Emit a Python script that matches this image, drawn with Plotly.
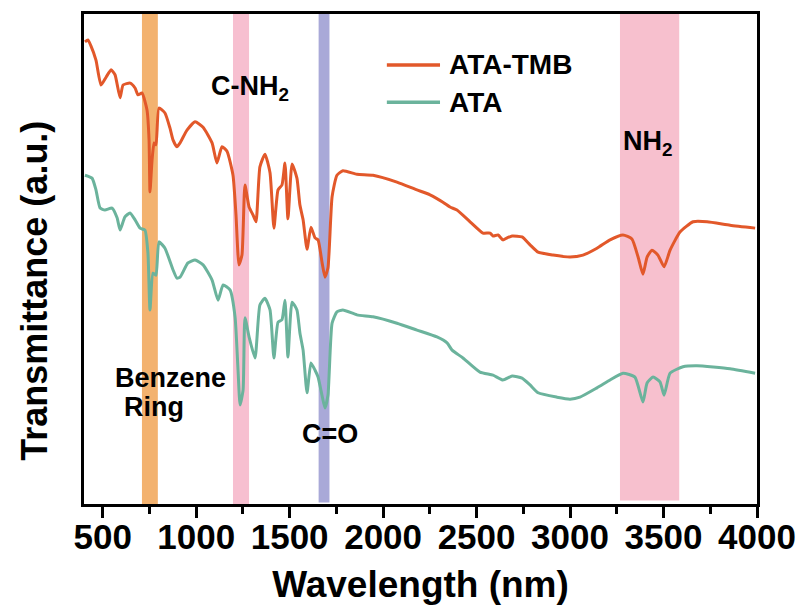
import plotly.graph_objects as go

# ---- data (wavenumber, transmittance a.u.) ----
wn_tmb = [405, 421, 437, 464, 491, 518, 545, 566, 593, 609, 647, 673, 689, 710, 737, 748, 753, 764,
          775, 785, 801, 833, 860, 876, 897, 914, 951, 994, 1037, 1085, 1111, 1138, 1165, 1197, 1213,
          1229, 1245, 1261, 1283, 1304, 1320, 1341, 1368, 1395, 1416, 1438, 1459, 1475, 1491, 1513,
          1539, 1555, 1572, 1593, 1614, 1636, 1652, 1673, 1689, 1705, 1727, 1753, 1785, 1860, 1946,
          2074, 2181, 2251, 2320, 2358, 2395, 2465, 2534, 2572, 2588, 2615, 2641, 2663, 2690, 2743,
          2786, 2829, 2909, 3000, 3069, 3144, 3214, 3283, 3331, 3364, 3390, 3412, 3438, 3470, 3503,
          3535, 3588, 3658, 3733, 3856, 3990]
t_tmb = [94.3, 94.7, 93.5, 90.6, 85.5, 87.1, 88.6, 87.6, 82.9, 85.5, 85.9, 84.9, 83.5, 83.9, 80.4,
         74.3, 63.7, 70.2, 73.7, 73.3, 80.8, 79.8, 76.7, 74.3, 72.9, 73.7, 76.3, 78.0, 76.9, 73.7,
         69.6, 72.9, 72.0, 67.1, 59.0, 48.8, 50.8, 65.1, 60.6, 59.0, 57.6, 68.8, 71.4, 67.6, 56.3,
         64.1, 65.1, 69.6, 58.2, 69.4, 66.5, 61.0, 58.0, 52.0, 56.5, 54.3, 53.9, 49.4, 46.3, 48.2,
         62.7, 67.1, 68.0, 67.3, 67.1, 65.7, 64.1, 63.1, 61.6, 60.6, 60.0, 57.6, 55.3, 55.3, 54.7,
         54.9, 53.9, 54.3, 54.7, 54.5, 52.9, 51.4, 50.8, 50.4, 50.8, 52.2, 53.9, 54.9, 54.1, 50.4,
         46.9, 50.4, 51.8, 50.8, 48.4, 51.8, 55.5, 57.6, 57.6, 56.9, 56.3]

wn_ata = [405, 443, 464, 486, 512, 550, 577, 593, 619, 646, 673, 700, 726, 742, 753, 769, 785, 801,
          833, 876, 897, 914, 956, 994, 1037, 1085, 1117, 1144, 1181, 1208, 1224, 1235, 1251, 1261,
          1283, 1315, 1341, 1368, 1395, 1416, 1438, 1459, 1475, 1491, 1513, 1539, 1555, 1572, 1593,
          1614, 1636, 1652, 1673, 1689, 1705, 1727, 1753, 1785, 1860, 1946, 2074, 2181, 2288, 2342,
          2369, 2427, 2518, 2588, 2641, 2690, 2743, 2786, 2829, 2930, 3000, 3053, 3144, 3214, 3283,
          3347, 3390, 3412, 3444, 3481, 3503, 3535, 3604, 3679, 3856, 3990]
t_ata = [67.1, 66.5, 64.1, 60.4, 60.0, 60.4, 58.4, 55.9, 58.6, 59.4, 58.0, 56.3, 55.9, 51.2, 39.6,
         47.1, 46.7, 53.5, 52.2, 47.8, 46.1, 46.3, 49.2, 49.8, 48.8, 45.7, 41.6, 44.7, 43.7, 38.2,
         27.3, 20.2, 23.3, 38.0, 34.1, 29.8, 40.6, 42.0, 39.6, 29.8, 37.1, 37.6, 41.6, 30.0, 41.2,
         39.6, 34.9, 31.4, 22.7, 28.8, 27.3, 25.9, 22.2, 19.6, 22.2, 36.9, 39.2, 39.6, 38.6, 38.2,
         36.9, 35.5, 34.1, 32.9, 31.4, 29.8, 26.9, 26.3, 25.3, 26.1, 25.7, 24.3, 22.7, 21.8, 21.4,
         21.8, 23.7, 25.3, 26.7, 25.9, 20.8, 24.7, 25.9, 24.9, 22.2, 26.7, 28.0, 28.2, 27.6, 26.7]

series_names = ["ATA-TMB", "ATA"]
series_colors = ["#E2582A", "#6BB39C"]

# highlighted bands
band_start = [710, 1197, 1655, 3267]
band_end = [795, 1283, 1713, 3584]
band_color = ["#F3B26F", "#F7BFD0", "#A9A9D8", "#F7C0CE"]
band_bottom = [0.0, 0.0, 0.003, 0.007]

# peak labels
label_text = ["C-NH<sub>2</sub>", "Benzene", "Ring", "C=O", "NH<sub>2</sub>"]
label_x = [1288, 555, 603, 1716, 3417]
label_y = [84.8, 25.8, 19.8, 14.3, 73.6]
label_anchor = ["center", "left", "left", "center", "center"]

x_tick_vals = [500, 1000, 1500, 2000, 2500, 3000, 3500, 4000]
x_minor_vals = [750, 1250, 1750, 2250, 2750, 3250, 3750]

BOLD = "Liberation Sans"

fig = go.Figure()
for wn, tv, nm, col in [(wn_tmb, t_tmb, series_names[0], series_colors[0]),
                        (wn_ata, t_ata, series_names[1], series_colors[1])]:
    fig.add_trace(go.Scatter(x=wn, y=tv, mode="lines", name=nm,
                             line=dict(color=col, width=3, shape="spline", smoothing=0.5),
                             showlegend=False))

for s, e, c, b in zip(band_start, band_end, band_color, band_bottom):
    fig.add_shape(type="rect", xref="x", yref="paper", x0=s, x1=e, y0=b, y1=1,
                  fillcolor=c, line_width=0, layer="below")

for t, x, y, a in zip(label_text, label_x, label_y, label_anchor):
    fig.add_annotation(text=t, x=x, y=y, xref="x", yref="y", xanchor=a, showarrow=False,
                       font=dict(family=BOLD, size=27, color="black", weight="bold"))

# manual legend
leg_y = [0.896, 0.820]
for nm, col, yy in zip(series_names, series_colors, leg_y):
    fig.add_shape(type="line", xref="paper", yref="paper", x0=0.450, x1=0.529, y0=yy, y1=yy,
                  line=dict(color=col, width=3.5))
    fig.add_annotation(text=nm, xref="paper", yref="paper", x=0.539, y=yy, xanchor="left",
                       yanchor="middle", showarrow=False,
                       font=dict(family=BOLD, size=28, color="black", weight="bold"))

# y-axis title (placed as rotated text)
fig.add_annotation(text="Transmittance (a.u.)", xref="paper", yref="paper",
                   x=-0.073, y=0.435, xanchor="center", yanchor="middle", textangle=-90,
                   showarrow=False,
                   font=dict(family=BOLD, size=36, color="black", weight="bold"))

fig.update_layout(
    width=803, height=612,
    margin=dict(l=84, r=46, t=14, b=108),
    plot_bgcolor="white", paper_bgcolor="white",
    showlegend=False,
)
fig.update_xaxes(
    range=[400, 4000], tickvals=x_tick_vals, ticks="outside", ticklen=11, tickwidth=2.5,
    tickcolor="black", showline=True, linewidth=3, linecolor="black", mirror=True,
    showgrid=False, zeroline=False, automargin=False, ticklabelstandoff=-11,
    tickfont=dict(family=BOLD, size=35, color="black", weight="bold"),
    minor=dict(tickvals=x_minor_vals, ticks="outside", ticklen=7,
               tickwidth=2.5, tickcolor="black", showgrid=False),
    title=dict(text="Wavelength (nm)", standoff=17,
               font=dict(family=BOLD, size=37, color="black", weight="bold")),
)
fig.update_yaxes(
    range=[0, 100], showticklabels=False, ticks="", showline=True, linewidth=3,
    linecolor="black", mirror=True, showgrid=False, zeroline=False, automargin=False,
)

fig.write_html("out.html")
